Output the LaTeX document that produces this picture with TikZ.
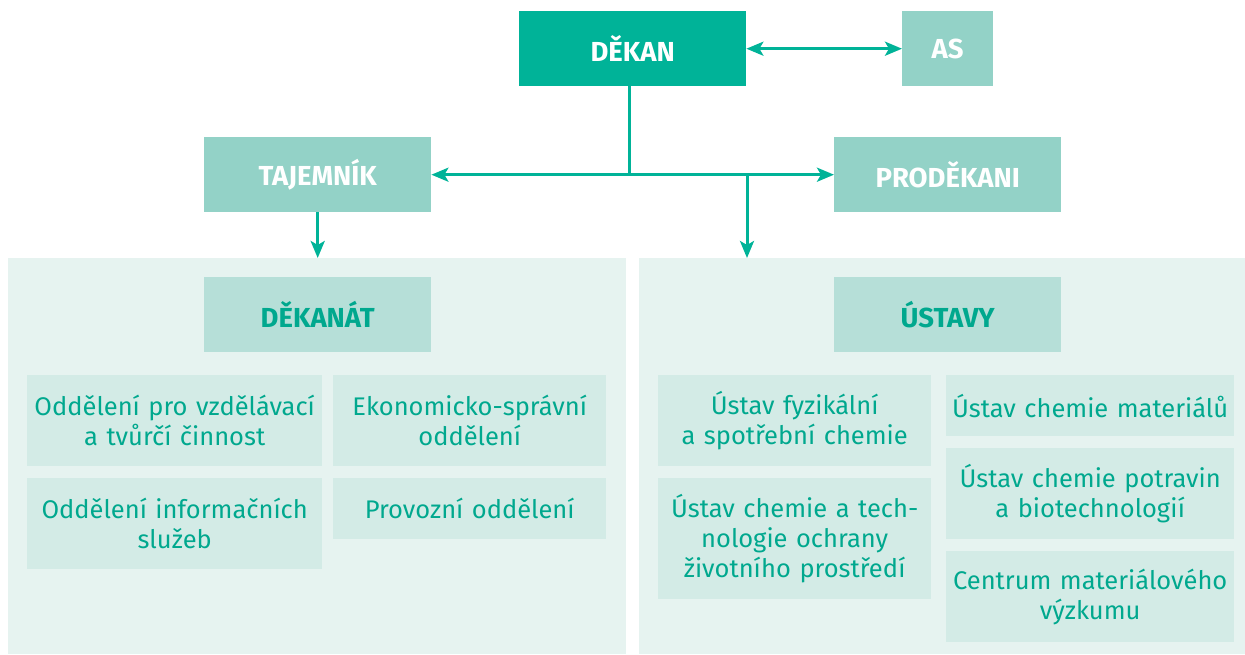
\documentclass[tikz,border=0pt]{standalone}
\usepackage{fontspec}
\setmainfont{Fira Sans}
\usetikzlibrary{arrows.meta}
\definecolor{dark}{HTML}{00B398}
\definecolor{mid}{HTML}{93D2C7}
\definecolor{hdr}{HTML}{B6DFD8}
\definecolor{sub}{HTML}{D3EBE6}
\definecolor{panel}{HTML}{E6F3F0}
\definecolor{txt}{HTML}{00A88E}
\tikzset{
  box/.style={rectangle, inner sep=0pt, anchor=north west, align=center},
  topbox/.style={box, fill=dark, text=white, font=\bfseries\fontsize{27.5}{30}\selectfont},
  midbox/.style={box, fill=mid, text=white, font=\bfseries\fontsize{27.5}{30}\selectfont},
  hdrbox/.style={box, fill=hdr, text=txt, font=\bfseries\fontsize{27.5}{30}\selectfont},
  subbox/.style={box, fill=sub, text=txt, font=\fontsize{25.5}{30}\selectfont},
  panelbox/.style={box, fill=panel},
  tip/.tip={Stealth[length=17pt,width=14pt,inset=4pt]},
  conn/.style={draw=dark, line width=3pt},
}
\begin{document}
\begin{tikzpicture}[x=1pt,y=-1pt]
\useasboundingbox (0,0) rectangle (1245,654);
% panels
\node[panelbox, minimum width=618, minimum height=396] (lp) at (8,258) {};
\node[panelbox, minimum width=606, minimum height=396] (rp) at (639,258) {};
% top
\node[topbox, minimum width=227, minimum height=75] (dekan) at (519,11) {DĚKAN};
\node[midbox, minimum width=91, minimum height=75] (as) at (902,11) {AS};
\node[midbox, minimum width=227, minimum height=75] (taj) at (204,137) {TAJEMNÍK};
\node[midbox, minimum width=227, minimum height=75] (pro) at (834,137) {PRODĚKANI};
% headers
\node[hdrbox, minimum width=227, minimum height=75] (dekanat) at (204,277) {DĚKANÁT};
\node[hdrbox, minimum width=227, minimum height=75] (ustavy) at (834,277) {ÚSTAVY};
% left boxes
\node[subbox, minimum width=295, minimum height=91, text width=295] (l1) at (27,375) {Oddělení pro vzdělávací\\a tvůrčí činnost};
\node[subbox, minimum width=273, minimum height=91, text width=273] (l2) at (333,375) {Ekonomicko-správní\\oddělení};
\node[subbox, minimum width=295, minimum height=91, text width=295] (l3) at (27,478) {Oddělení informačních\\služeb};
\node[subbox, minimum width=273, minimum height=61, text width=273] (l4) at (333,478) {Provozní oddělení};
% right boxes
\node[subbox, minimum width=273, minimum height=91, text width=273] (r1) at (658,375) {Ústav fyzikální\\a spotřební chemie};
\node[subbox, minimum width=273, minimum height=121, text width=273] (r2) at (658,478) {Ústav chemie a tech-\\nologie ochrany\\životního prostředí};
\node[subbox, minimum width=288, minimum height=61, text width=288] (r3) at (946,375) {Ústav chemie materiálů};
\node[subbox, minimum width=288, minimum height=91, text width=288] (r4) at (946,448) {Ústav chemie potravin\\a biotechnologií};
\node[subbox, minimum width=288, minimum height=91, text width=288] (r5) at (946,551) {Centrum materiálového\\výzkumu};
% connectors
\coordinate (j) at (629,174.5);
\coordinate (k) at (747,174.5);
\draw[conn, {tip}-{tip}] (dekan.east) -- (as.west);
\draw[conn] (dekan.south -| j) -- (j);
\draw[conn, {tip}-{tip}] (taj.east) -- (pro.west);
\draw[conn, -{tip}] (k) -- (k |- rp.north);
\draw[conn, -{tip}] (taj.south) -- (taj.south |- lp.north);
\end{tikzpicture}
\end{document}
